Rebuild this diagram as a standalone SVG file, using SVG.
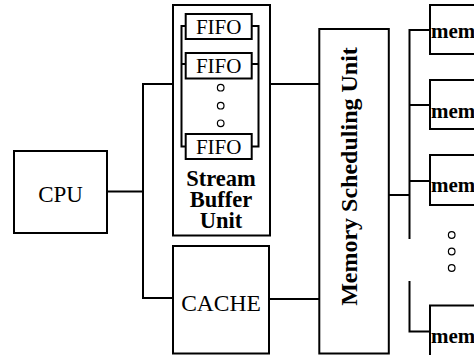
<svg xmlns="http://www.w3.org/2000/svg" width="474" height="355" viewBox="0 0 474 355">
<style>
.box{fill:#fff;stroke:#000;stroke-width:2}
.ln{fill:none;stroke:#000;stroke-width:2}
.dot{fill:#fff;stroke:#000;stroke-width:1.2}
.t{font-family:"Liberation Serif","Times New Roman",serif;fill:#000;text-anchor:middle}
.b{font-weight:bold}
.s{text-anchor:start}
</style>
<rect width="474" height="355" fill="#fff"/>
<g id="connectors">
<polyline class="ln" points="107,191.5 143,191.5"/>
<polyline class="ln" points="173,84 143,84 143,298 173,298"/>
<polyline class="ln" points="173,84 181.5,84"/>
<polyline class="ln" points="258.5,84 319,84"/>
<polyline class="ln" points="269,299 319,299"/>
<polyline class="ln" points="389,195 409.5,195"/>
<polyline class="ln" points="430,30 409.5,30 409.5,239"/>
<polyline class="ln" points="409.5,105 430,105"/>
<polyline class="ln" points="409.5,181 430,181"/>
<polyline class="ln" points="409.5,281 409.5,331.5 430,331.5"/>
</g>
<g id="cpu">
<rect class="box" x="14" y="151" width="93" height="82"/>
<text class="t" x="60.5" y="201.5" font-size="23">CPU</text>
</g>
<g id="stream-buffer-unit">
<rect class="box" x="173" y="5" width="97" height="230.5"/>
<polyline class="ln" points="186,26 181.5,26 181.5,146.5 186,146.5"/>
<polyline class="ln" points="181.5,64 186,64"/>
<polyline class="ln" points="251.5,26 258.5,26 258.5,146.5 251.5,146.5"/>
<polyline class="ln" points="251.5,64 258.5,64"/>
<text class="t b" font-size="22.5"><tspan x="221" y="186">Stream</tspan><tspan x="221" y="207">Buffer</tspan><tspan x="221" y="228">Unit</tspan></text>
</g>
<g id="fifo1">
<rect class="box" x="185.7" y="14" width="66" height="25"/>
<text class="t" x="218.7" y="33.5" font-size="21">FIFO</text>
</g>
<g id="fifo2">
<rect class="box" x="185.7" y="53" width="66" height="25.5"/>
<text class="t" x="218.7" y="72.5" font-size="21">FIFO</text>
</g>
<g id="fifo-dots">
<circle class="dot" cx="220.7" cy="87.7" r="3.3"/>
<circle class="dot" cx="220.7" cy="105.7" r="3.3"/>
<circle class="dot" cx="220.7" cy="123.3" r="3.3"/>
</g>
<g id="fifo3">
<rect class="box" x="185.7" y="134" width="66" height="25"/>
<text class="t" x="218.7" y="153.5" font-size="21">FIFO</text>
</g>
<g id="cache">
<rect class="box" x="173" y="246" width="96" height="107.5"/>
<text class="t" x="221" y="310.5" font-size="23.5">CACHE</text>
</g>
<g id="memory-scheduling-unit">
<rect class="box" x="319.3" y="29" width="69.5" height="324.5"/>
<text class="t b" font-size="24" transform="translate(357,176.5) rotate(-90)">Memory Scheduling Unit</text>
</g>
<g id="mem1">
<rect class="box" x="430" y="5" width="60" height="49"/>
<text class="t b s" x="431" y="38" font-size="21">mem</text>
</g>
<g id="mem2">
<rect class="box" x="430" y="80" width="60" height="49"/>
<text class="t b s" x="431" y="118" font-size="21">mem</text>
</g>
<g id="mem3">
<rect class="box" x="430" y="155" width="60" height="50"/>
<text class="t b s" x="431" y="192" font-size="21">mem</text>
</g>
<g id="mem-dots">
<circle class="dot" cx="451.7" cy="235" r="3.3"/>
<circle class="dot" cx="451.7" cy="251.5" r="3.3"/>
<circle class="dot" cx="451.7" cy="268" r="3.3"/>
</g>
<g id="mem4">
<rect class="box" x="430" y="305.5" width="60" height="60"/>
<text class="t b s" x="431" y="343" font-size="21">mem</text>
</g>
</svg>
